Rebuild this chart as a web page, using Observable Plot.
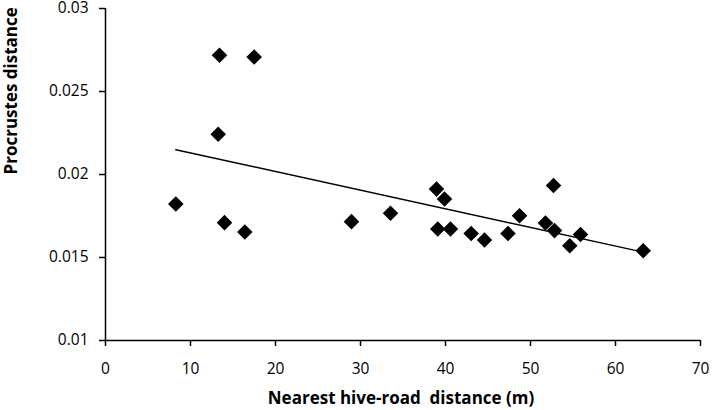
<!DOCTYPE html>
<html>
<head>
<meta charset="utf-8">
<script src="https://cdn.jsdelivr.net/npm/d3@7"></script>
<script src="https://cdn.jsdelivr.net/npm/@observablehq/plot@0.6"></script>
<style>
  html, body { margin: 0; padding: 0; background: #fff; }
  svg { white-space: pre; }
  .ttl { letter-spacing: 0px; }
</style>
</head>
<body>
<div id="chart"></div>
<script>
// Nearest hive-road distance (m)
const distance = [8.27, 13.41, 17.49, 13.26, 14.0, 16.39, 28.94, 33.53, 38.94, 39.88, 39.09,
                  40.59, 43.02, 44.59, 47.35, 48.71, 51.76, 52.71, 52.82, 55.88, 54.62, 63.26];
// Procrustes distance
const procrustes = [0.01822, 0.02719, 0.02708, 0.02243, 0.0171, 0.01654, 0.01716, 0.01766, 0.01912, 0.01852, 0.01672,
                    0.01672, 0.01645, 0.01606, 0.01644, 0.01752, 0.01708, 0.01934, 0.01662, 0.01638, 0.01571, 0.01541];
const xTicks = [0, 10, 20, 30, 40, 50, 60, 70];
const yTicks = [0.01, 0.015, 0.02, 0.025, 0.03];
const xTitle = "Nearest hive-road  distance (m)";
const yTitle = "Procrustes distance";

const data = distance.map((d, i) => ({x: d, y: procrustes[i]}));

const chart = Plot.plot({
  width: 713,
  height: 410,
  marginTop: 8,
  marginBottom: 70,
  marginLeft: 105,
  marginRight: 13,
  style: {fontFamily: "'Open Sans', sans-serif", fontSize: "15.5px", color: "#000", background: "#fff"},
  x: {domain: [0, 70], label: null},
  y: {domain: [0.01, 0.03], label: null},
  marks: [
    Plot.ruleX([0], {stroke: "black", strokeWidth: 1.5}),
    Plot.ruleY([0.01], {stroke: "black", strokeWidth: 1.5}),
    Plot.axisX({ticks: xTicks, tickFormat: d => String(d), tickSize: 6, tickPadding: 16, strokeWidth: 1.5, label: null, style: {letterSpacing: "1.8px"}}),
    Plot.axisY({ticks: yTicks, tickFormat: d => String(d), tickSize: 6, tickPadding: 11, strokeWidth: 1.5, label: null, style: {letterSpacing: "1.8px"}}),
    Plot.linearRegressionY(data, {x: "x", y: "y", ci: 0, stroke: "black", strokeWidth: 1.5}),
    Plot.dot(data, {x: "x", y: "y", symbol: "diamond2", r: 7, fill: "black", stroke: "none"}),
    Plot.text([xTitle], {frameAnchor: "bottom", dy: 58, dx: -2, text: d => d, fontWeight: "bold", fontSize: 17, lineAnchor: "middle", className: "ttl"}),
    Plot.text([yTitle], {frameAnchor: "left", dx: -94, rotate: -90, text: d => d, fontWeight: "bold", fontSize: 17, lineAnchor: "middle", className: "ttl"})
  ]
});
document.getElementById("chart").appendChild(chart);
</script>
</body>
</html>
